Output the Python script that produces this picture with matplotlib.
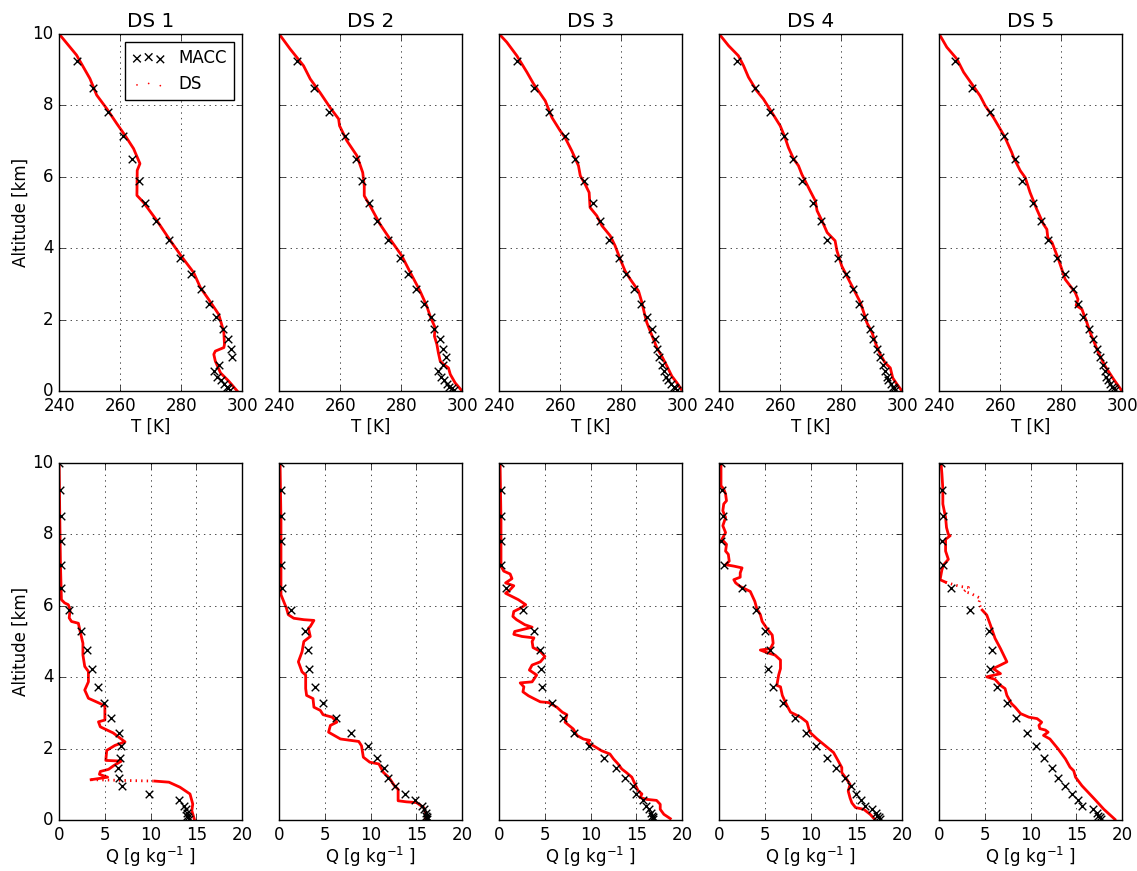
import numpy as np
import matplotlib
matplotlib.use('Agg')
import matplotlib.pyplot as plt

plt.style.use('classic')
plt.rcParams['mathtext.fontset'] = 'dejavusans'
plt.rcParams['font.family'] = ['DejaVu Sans']

# MACC model levels (km), shared by every profile
macc_z = [10.0, 9.25, 8.5, 7.82, 7.15, 6.5, 5.88, 5.28, 4.75, 4.22, 3.72, 3.27, 2.85,
          2.45, 2.08, 1.75, 1.45, 1.17, 0.95, 0.73, 0.55, 0.4, 0.3, 0.2, 0.12, 0.08, 0.04]

# MACC temperature [K]
macc_t1 = [238.0, 245.7, 251.2, 255.9, 261.0, 263.9, 266.1, 268.3, 271.6, 276.0, 279.7, 283.2, 286.4,
           289.2, 291.4, 293.6, 295.2, 296.4, 296.7, 292.4, 290.8, 291.8, 292.9, 294.0, 295.0, 295.5, 296.0]
macc_t2 = [238.0, 245.8, 251.3, 256.5, 261.6, 265.2, 267.1, 269.6, 272.2, 275.8, 279.5, 282.2, 284.9,
           287.5, 289.7, 290.8, 292.6, 293.6, 294.6, 293.6, 292.2, 293.0, 293.9, 295.0, 295.8, 296.6, 297.2]
macc_t3 = [238.0, 245.8, 251.3, 256.5, 261.6, 264.9, 267.7, 270.7, 273.1, 276.1, 279.3, 281.6, 284.3,
           286.4, 288.6, 290.0, 291.1, 291.7, 292.5, 293.3, 294.1, 294.8, 295.5, 296.3, 297.2, 297.7, 298.3]
macc_t4 = [238.0, 246.0, 251.6, 256.7, 261.1, 264.2, 267.1, 270.7, 273.3, 275.5, 278.9, 281.6, 283.9,
           286.0, 287.6, 289.3, 290.4, 291.7, 292.8, 293.7, 294.4, 295.0, 295.5, 296.3, 296.9, 297.4, 297.8]
macc_t5 = [238.0, 245.2, 250.9, 256.5, 261.1, 264.9, 267.1, 270.9, 273.3, 275.8, 278.6, 281.3, 283.9,
           285.5, 287.1, 289.0, 290.3, 291.7, 292.8, 293.6, 294.2, 294.8, 295.3, 296.1, 296.6, 297.2, 297.7]

# MACC specific humidity [g/kg]
macc_q1 = [0.0, 0.15, 0.2, 0.25, 0.2, 0.2, 1.1, 2.4, 3.1, 3.6, 4.2, 4.9, 5.7,
           6.5, 6.8, 6.6, 6.4, 6.5, 6.9, 9.8, 13.1, 13.6, 13.9, 14.0, 14.0, 14.1, 14.2]
macc_q2 = [0.1, 0.2, 0.2, 0.2, 0.2, 0.3, 1.3, 2.8, 3.2, 3.3, 3.9, 4.8, 6.2,
           7.9, 9.7, 10.7, 11.5, 11.9, 12.7, 13.8, 14.8, 15.6, 15.8, 16.0, 16.1, 16.2, 16.2]
macc_q3 = [0.1, 0.2, 0.2, 0.2, 0.2, 0.8, 2.6, 3.8, 4.5, 4.6, 4.7, 5.8, 7.0,
           8.2, 9.8, 11.5, 12.8, 13.8, 14.6, 15.0, 15.7, 16.1, 16.4, 16.6, 16.7, 16.8, 16.8]
macc_q4 = [0.2, 0.3, 0.4, 0.2, 0.5, 2.5, 4.0, 5.0, 5.5, 5.3, 5.9, 7.0, 8.3,
           9.5, 10.6, 11.8, 12.8, 13.7, 14.4, 15.0, 15.5, 15.9, 16.7, 17.1, 17.3, 17.5, 17.6]
macc_q5 = [0.2, 0.3, 0.4, 0.3, 0.4, 1.3, 3.4, 5.4, 5.8, 5.6, 6.3, 7.4, 8.4,
           9.6, 10.6, 11.5, 12.3, 13.0, 13.7, 14.5, 15.2, 15.6, 16.8, 17.2, 17.4, 17.6, 17.7]

# DS temperature profiles
ds1_t_z = [10.0, 9.41, 9.08, 8.75, 8.29, 7.91, 7.49, 7.16, 6.79, 6.37, 6.18, 5.48, 5.29, 4.78, 4.22,
           3.75, 3.32, 2.9, 2.57, 2.15, 1.83, 1.64, 1.31, 1.22, 1.12, 1.03, 0.84, 0.51, 0.28, 0.0]
ds1_t = [240.0, 245.7, 247.9, 250.1, 252.3, 255.6, 258.9, 261.6, 264.4, 266.5, 265.6, 265.5, 267.6, 272.0, 276.4,
         280.3, 284.1, 286.3, 289.0, 292.3, 293.4, 294.0, 294.2, 294.0, 291.2, 290.7, 291.2, 292.9, 295.6, 298.4]
ds2_t_z = [10.0, 9.58, 9.11, 8.74, 8.36, 7.94, 7.62, 7.43, 7.01, 6.59, 6.12, 5.75, 5.47, 5.19, 4.67, 4.25,
           3.79, 3.32, 2.8, 2.38, 2.1, 1.78, 1.54, 1.31, 1.07, 0.84, 0.75, 0.65, 0.47, 0.23, 0.03]
ds2_t = [240.0, 243.6, 248.0, 250.2, 253.4, 256.7, 259.5, 259.8, 262.2, 265.5, 267.4, 267.9, 267.9, 269.8, 273.1, 276.4,
         280.2, 283.0, 286.2, 288.4, 289.5, 291.1, 290.9, 291.7, 292.2, 292.8, 293.9, 295.5, 296.1, 297.7, 299.7]
ds3_t_z = [10.0, 9.77, 9.39, 8.93, 8.6, 8.13, 7.66, 7.29, 7.1, 6.73, 6.31, 6.03, 5.79, 5.56, 5.14, 4.91, 4.63,
           4.35, 4.07, 3.69, 3.36, 3.13, 2.8, 2.48, 2.15, 1.92, 1.68, 1.45, 1.21, 0.98, 0.7, 0.42, 0.23, 0.05]
ds3_t = [240.0, 242.5, 245.8, 249.1, 251.3, 255.1, 257.3, 260.0, 261.6, 263.8, 266.0, 266.6, 268.2, 269.5, 269.8, 272.0, 273.7,
         276.4, 278.0, 279.7, 281.3, 283.0, 285.7, 286.8, 287.7, 288.4, 289.5, 290.6, 291.7, 293.3, 295.0, 296.6, 298.3, 299.7]
ds4_t_z = [10.0, 9.67, 9.39, 9.11, 8.79, 8.41, 8.18, 7.8, 7.43, 7.1, 6.82, 6.5, 6.31, 6.07, 5.61, 5.33, 5.05, 4.77,
           4.44, 4.21, 3.93, 3.5, 3.13, 2.85, 2.48, 2.2, 1.92, 1.64, 1.31, 1.03, 0.79, 0.65, 0.37, 0.19, 0.03]
ds4_t = [240.0, 243.1, 246.3, 248.0, 249.6, 252.3, 254.5, 257.3, 260.0, 261.6, 262.7, 264.4, 266.0, 267.1, 269.8, 271.5, 272.1, 273.7,
         275.4, 278.0, 278.6, 280.2, 282.4, 284.1, 286.3, 287.4, 288.4, 290.1, 291.4, 292.8, 294.4, 296.1, 296.9, 298.3, 299.7]
ds5_t_z = [10.0, 9.63, 9.3, 8.93, 8.6, 8.27, 7.99, 7.66, 7.34, 7.1, 6.68, 6.54, 6.17, 5.98, 5.56, 5.09, 4.67,
           4.53, 4.3, 4.16, 3.69, 3.13, 2.94, 2.76, 2.57, 2.4, 2.29, 1.92, 1.64, 1.31, 1.07, 0.7, 0.33, 0.03]
ds5_t = [240.0, 242.5, 245.8, 248.0, 250.7, 253.4, 255.1, 257.8, 260.0, 261.6, 263.8, 264.4, 266.6, 268.2, 269.8, 272.0, 274.2,
         275.3, 275.6, 277.0, 279.1, 281.3, 283.0, 284.6, 285.5, 284.9, 286.8, 288.4, 289.5, 291.1, 292.2, 294.4, 297.2, 299.7]

# DS humidity profiles
ds1_q_z = [10.0, 8.52, 7.11, 6.17, 6.08, 6.03, 5.89, 5.66, 5.56, 5.51, 5.28, 4.95, 4.62, 4.3, 4.16, 3.87, 3.64,
           3.41, 3.26, 3.19, 2.8, 2.75, 2.61, 2.44, 2.19, 2.09, 1.95, 1.67, 1.65, 1.53, 1.42, 1.36, 1.28, 1.2,
           1.13, 1.09, 1.06, 0.92, 0.73, 0.45, 0.26, 0.0]
ds1_q = [0.0, 0.07, 0.15, 0.25, 0.6, 1.0, 1.2, 1.1, 1.35, 2.1, 2.3, 2.6, 2.6, 2.8, 3.2, 3.2, 2.8,
         3.2, 4.5, 5.0, 5.0, 4.3, 4.5, 5.9, 7.2, 6.1, 5.2, 5.1, 6.8, 6.0, 5.4, 4.5, 4.4, 5.3,
         3.5, 10.5, 12.0, 13.2, 14.3, 14.6, 14.5, 14.8]
ds2_q_z = [10.0, 8.38, 6.31, 6.12, 5.93, 5.75, 5.65, 5.61, 5.59, 5.42, 5.37, 5.14, 5.0, 4.71, 4.43, 4.15, 4.06,
           3.68, 3.49, 3.4, 3.16, 3.07, 2.95, 2.88, 2.74, 2.65, 2.46, 2.27, 2.2, 2.08, 1.76, 1.62, 1.57, 1.33,
           1.19, 0.96, 0.86, 0.68, 0.54, 0.51, 0.49, 0.35, 0.21, 0.02]
ds2_q = [0.1, 0.2, 0.2, 0.5, 0.8, 1.0, 1.6, 2.7, 3.8, 3.4, 3.2, 3.4, 2.7, 2.5, 2.1, 2.5, 2.9,
         2.9, 3.0, 3.7, 3.8, 4.5, 4.8, 5.8, 6.3, 5.6, 5.4, 6.7, 8.7, 9.0, 9.2, 9.9, 10.9, 11.4,
         12.0, 12.6, 13.0, 13.0, 13.0, 13.9, 15.0, 15.8, 16.0, 16.0]
ds3_q_z = [10.0, 8.38, 7.11, 6.97, 6.89, 6.76, 6.64, 6.56, 6.45, 6.35, 6.26, 6.17, 6.03, 5.93, 5.84, 5.7, 5.61,
           5.47, 5.4, 5.33, 5.28, 5.2, 5.14, 5.1, 5.0, 4.83, 4.72, 4.58, 4.43, 4.34, 4.2, 4.06, 3.87, 3.84,
           3.73, 3.59, 3.48, 3.4, 3.31, 3.29, 3.16, 3.02, 2.95, 2.74, 2.55, 2.37, 2.27, 2.23, 2.16, 2.08,
           1.94, 1.85, 1.71, 1.57, 1.43, 1.33, 1.2, 0.92, 0.82, 0.73, 0.63, 0.58, 0.55, 0.44, 0.3, 0.16, 0.04]
ds3_q = [0.1, 0.2, 0.2, 0.5, 1.2, 1.4, 0.7, 1.6, 1.2, 0.7, 1.4, 2.1, 2.9, 2.3, 1.6, 1.5, 1.9,
         2.8, 3.6, 2.5, 1.7, 1.6, 2.5, 3.8, 3.6, 3.7, 4.5, 5.0, 4.5, 3.6, 3.3, 4.1, 3.6, 2.3,
         2.7, 2.6, 3.2, 3.8, 4.5, 5.4, 6.3, 6.9, 7.4, 7.2, 8.1, 8.5, 9.2, 9.9, 9.6, 10.3,
         11.2, 12.1, 12.5, 13.0, 13.4, 13.9, 14.5, 15.0, 15.2, 15.6, 15.4, 16.1, 17.2, 17.6, 17.6, 18.0, 18.7]
ds4_q_z = [10.0, 9.36, 9.27, 9.13, 8.94, 8.85, 8.66, 8.47, 8.24, 8.05, 7.86, 7.72, 7.53, 7.44, 7.25, 7.15, 7.11,
           7.06, 6.92, 6.8, 6.73, 6.64, 6.54, 6.4, 6.12, 5.93, 5.75, 5.56, 5.37, 5.18, 4.95, 4.8, 4.76, 4.69,
           4.62, 4.48, 4.24, 4.06, 3.77, 3.73, 3.49, 3.21, 3.02, 2.88, 2.74, 2.46, 2.27, 2.08, 1.89, 1.66,
           1.47, 1.33, 1.19, 1.0, 0.81, 0.62, 0.48, 0.35, 0.3, 0.16, 0.02]
ds4_q = [0.2, 0.2, 0.5, 0.7, 0.8, 0.5, 0.4, 0.7, 0.4, 0.7, 0.3, 0.8, 0.7, 1.0, 1.1, 0.7, 1.6,
         2.5, 2.3, 2.3, 1.6, 1.8, 2.3, 3.4, 3.9, 4.1, 4.5, 4.7, 5.2, 5.8, 5.9, 5.6, 4.5, 5.2,
         6.1, 6.7, 6.7, 6.5, 6.3, 6.7, 6.9, 7.4, 7.8, 8.9, 9.6, 9.9, 10.7, 11.6, 12.5, 13.0,
         13.4, 13.4, 13.8, 14.3, 14.1, 14.3, 14.5, 14.9, 15.8, 16.5, 17.0]
ds5_q_z = [10.0, 9.69, 9.27, 8.85, 8.47, 8.19, 8.0, 7.96, 7.86, 7.53, 7.3, 7.15, 7.01, 6.73, 6.66, 6.59, 6.54,
           6.51, 6.4, 6.35, 6.21, 6.07, 5.88, 5.74, 5.46, 5.09, 4.8, 4.43, 4.34, 4.24, 4.1, 4.01, 3.94, 3.77,
           3.68, 3.49, 3.26, 3.16, 2.98, 2.88, 2.84, 2.74, 2.65, 2.56, 2.52, 2.46, 2.37, 2.27, 1.99, 1.71,
           1.48, 1.38, 1.2, 0.96, 0.77, 0.58, 0.3, 0.02]
ds5_q = [0.2, 0.3, 0.4, 0.4, 0.7, 0.8, 1.0, 1.2, 0.7, 0.7, 1.0, 0.5, 0.3, 0.1, 0.7, 1.6, 2.3,
         3.2, 2.7, 3.4, 4.5, 4.3, 4.7, 5.2, 5.6, 6.1, 6.7, 7.4, 6.7, 5.9, 6.7, 5.2, 6.1, 6.7,
         7.2, 7.4, 7.9, 8.3, 8.9, 9.8, 10.7, 11.2, 10.9, 11.0, 11.6, 11.9, 11.4, 12.1, 13.0, 13.8,
         14.3, 14.7, 14.9, 15.6, 16.3, 17.0, 18.0, 19.2]

titles = ['DS 1', 'DS 2', 'DS 3', 'DS 4', 'DS 5']
macc_t = [macc_t1, macc_t2, macc_t3, macc_t4, macc_t5]
macc_q = [macc_q1, macc_q2, macc_q3, macc_q4, macc_q5]
ds_t = [(ds1_t, ds1_t_z), (ds2_t, ds2_t_z), (ds3_t, ds3_t_z), (ds4_t, ds4_t_z), (ds5_t, ds5_t_z)]
ds_q = [(ds1_q, ds1_q_z), (ds2_q, ds2_q_z), (ds3_q, ds3_q_z), (ds4_q, ds4_q_z), (ds5_q, ds5_q_z)]
# altitude bands where the DS points are sparse (drawn dotted)
q_sparse = [(1.085, 1.135), None, None, None, (5.87, 6.67)]


def draw_ds(ax, x, z, band=None):
    x = np.asarray(x, float)
    z = np.asarray(z, float)
    if band is None:
        ax.plot(x, z, color='r', lw=2, solid_joinstyle='round')
        return
    idx = np.where((z >= band[0]) & (z <= band[1]))[0]
    i0, i1 = idx[0], idx[-1]
    ax.plot(x[:i0 + 1], z[:i0 + 1], color='r', lw=2)
    ax.plot(x[i0:i1 + 1], z[i0:i1 + 1], color='r', lw=2, ls=':')
    ax.plot(x[i1:], z[i1:], color='r', lw=2)


fig, axes = plt.subplots(2, 5, figsize=(11.37, 8.71), dpi=100, facecolor='white')
fig.subplots_adjust(left=0.052, right=0.987, top=0.961, bottom=0.0585, wspace=0.202, hspace=0.201)

for i in range(5):
    ax = axes[0, i]
    draw_ds(ax, ds_t[i][0], ds_t[i][1])
    ax.scatter(macc_t[i], macc_z, marker='x', c='k', s=30, linewidths=1, label='MACC', zorder=3)
    ax.set_xlim(240, 300)
    ax.set_ylim(0, 10)
    ax.set_xticks([240, 260, 280, 300])
    ax.set_yticks([0, 2, 4, 6, 8, 10])
    ax.set_xlabel('T [K]', labelpad=2)
    ax.set_title(titles[i])
    ax.grid(True)
    if i == 0:
        ax.set_ylabel('Altitude [km]', labelpad=2)
        ax.scatter([], [], marker='.', c='r', s=6, edgecolors='none', label='DS')
        ax.legend(loc='upper right', scatterpoints=3, fontsize=12, borderaxespad=0.5)
    else:
        ax.set_yticklabels([])

    ax = axes[1, i]
    draw_ds(ax, ds_q[i][0], ds_q[i][1], q_sparse[i])
    ax.scatter(macc_q[i], macc_z, marker='x', c='k', s=30, linewidths=1, zorder=3)
    ax.set_xlim(0, 20)
    ax.set_ylim(0, 10)
    ax.set_xticks([0, 5, 10, 15, 20])
    ax.set_yticks([0, 2, 4, 6, 8, 10])
    ax.set_xlabel(r'Q [g kg$^{-1}$ ]', labelpad=1)
    ax.grid(True)
    if i == 0:
        ax.set_ylabel('Altitude [km]', labelpad=2)
    else:
        ax.set_yticklabels([])

fig.savefig('out.png', dpi=100, facecolor='white')
